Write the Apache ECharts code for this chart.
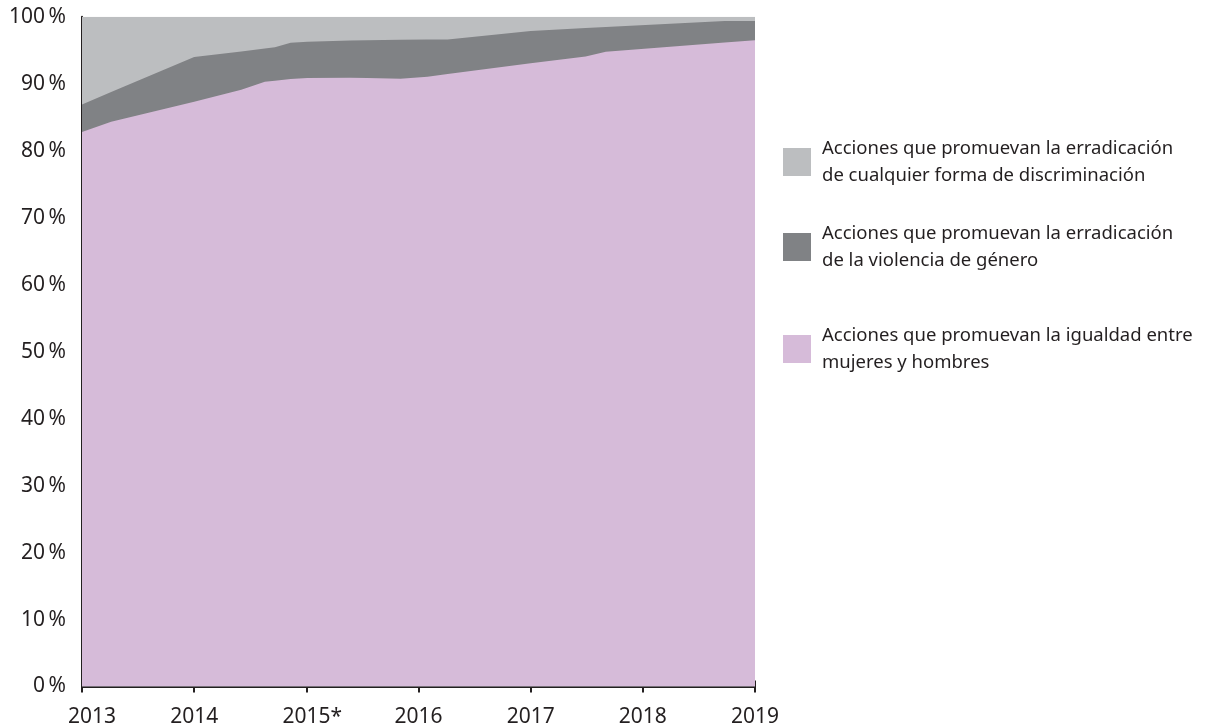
<!DOCTYPE html>
<html>
<head>
<meta charset="utf-8">
<script src="https://cdn.jsdelivr.net/npm/echarts@6/dist/echarts.min.js"></script>
<style>
  html, body { margin: 0; padding: 0; background: #ffffff; }
  #chart { width: 1219px; height: 725px; }
</style>
</head>
<body>
<div id="chart"></div>
<script>
// x positions (years) where the area outlines change direction
const years = [2013.00, 2013.26, 2014.00, 2014.42, 2014.63, 2014.72, 2014.86, 2015.01, 2015.39, 2015.54, 2015.84, 2016.08, 2016.26, 2017.00, 2017.49, 2017.67, 2018.73, 2019.00];
// shares (%)
const igualdad       = [82.8, 84.3, 87.3, 89.1, 90.3, 90.45, 90.7, 90.85, 90.9, 90.85, 90.75, 91.05, 91.45, 93.05, 94.05, 94.75, 96.15, 96.5];
const violencia      = [4.1, 4.45, 6.7, 5.7, 4.95, 5.0, 5.4, 5.4, 5.55, 5.65, 5.8, 5.55, 5.15, 4.8, 4.25, 3.7, 3.2, 2.85];
const discriminacion = [13.1, 11.25, 6.0, 5.2, 4.75, 4.55, 3.9, 3.75, 3.55, 3.5, 3.45, 3.4, 3.4, 2.15, 1.7, 1.55, 0.65, 0.65];
const tickYears = [2013, 2014, 2015, 2016, 2017, 2018, 2019];
const tickYearLabels = ['2013', '2014', '2015*', '2016', '2017', '2018', '2019'];

const names = [
  'Acciones que promuevan la erradicación\nde cualquier forma de discriminación',
  'Acciones que promuevan la erradicación\nde la violencia de género',
  'Acciones que promuevan la igualdad entre\nmujeres y hombres'
];
const colors = ['#bcbec0', '#808285', '#d6bbd9'];
const txt = '#231f20';
const font = 'Noto Sans';

// cumulative tops for each layer (drawn back to front)
const cumPink = igualdad.map((v, i) => [years[i], v]);
const cumDark = igualdad.map((v, i) => [years[i], v + violencia[i]]);
const cumLight = igualdad.map((v, i) => [years[i], v + violencia[i] + discriminacion[i]]);

function areaSeries(name, data, color) {
  return {
    name: name,
    type: 'line',
    data: data,
    xAxisIndex: 0,
    showSymbol: false,
    symbol: 'none',
    lineStyle: { width: 0, color: color },
    itemStyle: { color: color },
    areaStyle: { color: color, opacity: 1 },
    silent: true
  };
}

function legendFor(i, top) {
  return {
    data: [{ name: names[i], icon: 'rect', itemStyle: { color: colors[i] } }],
    left: 783,
    top: top,
    padding: 0,
    itemWidth: 28,
    itemHeight: 28,
    selectedMode: false,
    textStyle: {
      color: txt,
      fontFamily: font,
      fontSize: 18.5,
      lineHeight: 27,
      padding: [27, 0, 0, 6]
    }
  };
}

const labelBase = { color: txt, fontFamily: font, fontSize: 21 };

const chart = echarts.init(document.getElementById('chart'), null, { renderer: 'canvas' });
chart.setOption({
  backgroundColor: '#ffffff',
  animation: false,
  grid: { left: 82, right: 464, top: 16.7, bottom: 38.5, containLabel: false, outerBoundsMode: 'none' },
  xAxis: [{
    type: 'value',
    min: 2013, max: 2019, interval: 1,
    axisLine: { show: true, lineStyle: { color: txt, width: 2 } },
    axisTick: { show: true, inside: false, length: 6, lineStyle: { color: txt, width: 2 } },
    splitLine: { show: false },
    axisLabel: {
      color: txt, fontFamily: font, fontSize: 21, margin: 20,
      formatter: function (v) {
        const k = tickYears.indexOf(Math.round(v));
        if (k < 0) return '';
        if (k === 0) return '{first|' + tickYearLabels[k] + '}';
        if (k === 2) return '{star|' + tickYearLabels[k] + '}';
        return '{n|' + tickYearLabels[k] + '}';
      },
      rich: {
        n: Object.assign({}, labelBase),
        first: Object.assign({ padding: [0, 0, 0, 20] }, labelBase),
        star: Object.assign({ padding: [0, 0, 0, 12] }, labelBase)
      }
    }
  }, {
    type: 'value',
    position: 'bottom',
    min: 2013, max: 2019, interval: 1,
    axisLine: { show: false },
    axisTick: { show: true, inside: true, length: 6, lineStyle: { color: txt, width: 2 } },
    splitLine: { show: false },
    axisLabel: { show: false }
  }],
  yAxis: {
    type: 'value',
    min: 0, max: 100, interval: 10,
    axisLine: { show: true, lineStyle: { color: txt, width: 2 } },
    axisTick: { show: false },
    splitLine: { show: false },
    axisLabel: { color: txt, fontFamily: font, fontSize: 21, margin: 16, formatter: '{value}\u2009%' }
  },
  legend: [legendFor(0, 121.5), legendFor(1, 206.5), legendFor(2, 308.5)],
  series: [
    areaSeries(names[0], cumLight, colors[0]),
    areaSeries(names[1], cumDark, colors[1]),
    areaSeries(names[2], cumPink, colors[2])
  ]
});
</script>
</body>
</html>
